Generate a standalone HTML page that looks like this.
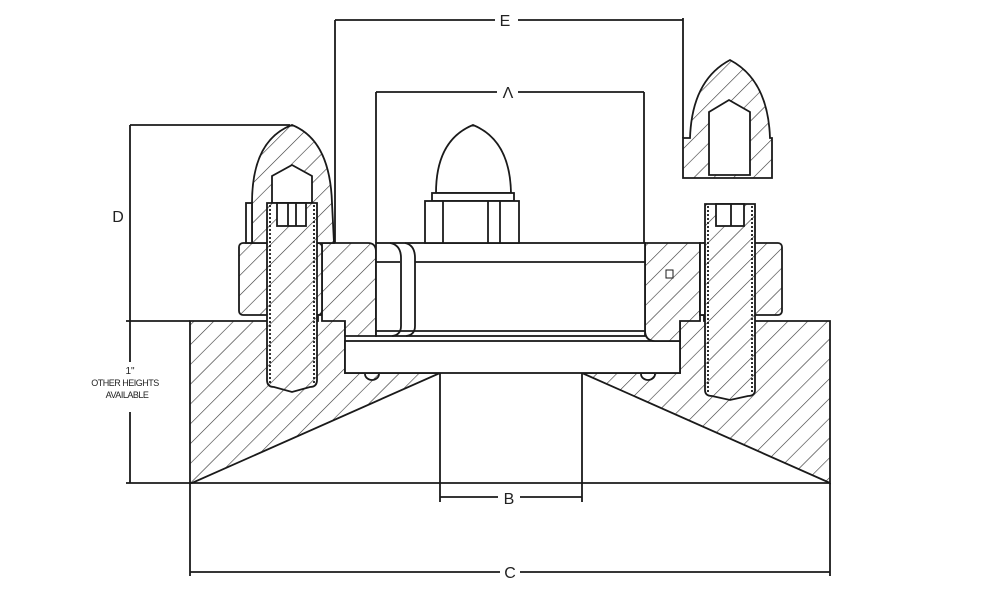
<!DOCTYPE html>
<html><head><style>
html,body{margin:0;padding:0;background:#fff;}
svg{display:block;}
text{font-family:"Liberation Sans",sans-serif;fill:#222;}
</style></head><body>
<svg width="992" height="595" viewBox="0 0 992 595" xmlns="http://www.w3.org/2000/svg">
<defs>
<pattern id="h" patternUnits="userSpaceOnUse" width="14" height="14" patternTransform="rotate(45)">
<rect width="14" height="14" fill="#fff"/>
<line x1="0" y1="0" x2="0" y2="14" stroke="#333" stroke-width="1.2"/>
</pattern>
</defs>
<g fill="none" stroke="#1a1a1a" stroke-width="1.8">
<!-- dimension E -->
<line x1="335" y1="20" x2="495" y2="20"/><line x1="518" y1="20" x2="683" y2="20"/>
<line x1="335" y1="20" x2="335" y2="243"/>
<line x1="683" y1="18" x2="683" y2="138"/>
<!-- A -->
<line x1="376" y1="92" x2="497" y2="92"/><line x1="518" y1="92" x2="644" y2="92"/>
<line x1="376" y1="92" x2="376" y2="243"/>
<line x1="644" y1="92" x2="644" y2="243"/>
<!-- D -->
<line x1="130" y1="125" x2="290" y2="125"/>
<line x1="130" y1="125" x2="130" y2="362"/>
<line x1="130" y1="412" x2="130" y2="483"/>
<line x1="126" y1="321" x2="190" y2="321"/>
<line x1="126" y1="483" x2="190" y2="483"/>
<!-- B -->
<line x1="440" y1="373" x2="440" y2="502"/><line x1="582" y1="373" x2="582" y2="502"/>
<line x1="440" y1="497" x2="498" y2="497"/><line x1="520" y1="497" x2="582" y2="497"/>
<!-- C -->
<line x1="190" y1="483" x2="190" y2="576"/><line x1="830" y1="483" x2="830" y2="576"/>
<line x1="190" y1="572" x2="500" y2="572"/><line x1="520" y1="572" x2="830" y2="572"/>

<!-- base -->
<polygon points="190,321 318,321 318,315 345,315 345,373 440,373 192,483 190,483" fill="url(#h)"/>
<polygon points="830,321 704,321 704,315 680,315 680,373 582,373 830,483" fill="url(#h)"/>
<line x1="190" y1="483" x2="830" y2="483"/>
<!-- plate -->
<rect x="345" y="341" width="335" height="32" fill="#fff"/>
<path d="M365,374 a7,6 0 0 0 14,0" /><path d="M641,374 a7,6 0 0 0 14,0"/>
<!-- flange left hatched -->
<path d="M322,243 H368 Q376,243 376,252 V336 H345 V321 H322 Z" fill="url(#h)"/>
<path d="M645,243 H700 V321 H680 V341 H655 Q645,341 645,330 Z" fill="url(#h)"/>
<!-- glass -->
<rect x="376" y="243" width="269" height="93" fill="#fff"/>
<line x1="376" y1="262" x2="400" y2="262"/>
<line x1="415" y1="262" x2="645" y2="262"/>
<line x1="376" y1="331" x2="645" y2="331"/>
<path d="M390,243 Q401,245 401,258 V326 Q401,335 392,336"/>
<path d="M405,243 Q415,245 415,258 V326 Q415,335 406,336"/>
<!-- left nut -->
<rect x="239" y="243" width="83" height="72" rx="4" fill="url(#h)"/>
<!-- left cap -->
<path d="M252,203 Q252,140 292,125 Q330,140 332,203 L334,243 H252 Z" fill="url(#h)"/>
<rect x="246" y="203" width="6" height="40" fill="#fff"/>
<polygon points="272,203 272,176 292,165 312,176 312,203" fill="#fff"/>
<!-- left bolt -->
<path d="M267,203 H317 V380 Q317,387 310,387 L292,392 L274,387 Q267,387 267,380 Z" fill="url(#h)"/>
<line x1="270" y1="205" x2="270" y2="385" stroke-dasharray="2,2"/>
<line x1="314" y1="205" x2="314" y2="385" stroke-dasharray="2,2"/>
<rect x="277" y="203" width="29" height="23" fill="#fff"/>
<line x1="288" y1="203" x2="288" y2="226"/><line x1="296" y1="203" x2="296" y2="226"/>
<!-- center acorn -->
<path d="M436,193 Q436,140 473,125 Q510,140 511,193 Z" fill="#fff"/>
<rect x="432" y="193" width="82" height="8" fill="#fff"/>
<rect x="425" y="201" width="94" height="42" fill="#fff"/>
<line x1="443" y1="201" x2="443" y2="243"/><line x1="488" y1="201" x2="488" y2="243"/><line x1="500" y1="201" x2="500" y2="243"/>
<!-- right nut -->
<rect x="700" y="243" width="82" height="72" rx="4" fill="url(#h)"/>
<rect x="700" y="243" width="5" height="72" fill="#fff"/>
<!-- right bolt -->
<path d="M705,204 H755 V390 Q755,396 748,396 L730,400 L712,396 Q705,396 705,390 Z" fill="url(#h)"/>
<line x1="708" y1="206" x2="708" y2="392" stroke-dasharray="2,2"/>
<line x1="752" y1="206" x2="752" y2="392" stroke-dasharray="2,2"/>
<rect x="716" y="204" width="28" height="22" fill="#fff"/>
<line x1="731" y1="204" x2="731" y2="226"/>
<rect x="666" y="270" width="7" height="8" stroke-width="1"/>
<!-- right cap -->
<path d="M690,138 Q692,80 730,60 Q768,80 770,138 H772 V178 H683 V138 Z" fill="url(#h)"/>
<polygon points="709,175 709,112 729,100 750,112 750,175" fill="#fff"/>
</g>
<text x="505" y="26" font-size="16" text-anchor="middle">E</text>
<text x="508" y="98" font-size="16" text-anchor="middle">Λ</text>
<text x="118" y="222" font-size="16" text-anchor="middle">D</text>
<text x="509" y="504" font-size="16" text-anchor="middle">B</text>
<text x="510" y="578" font-size="16" text-anchor="middle">C</text>
<text x="130" y="374" font-size="10" text-anchor="middle">1"</text>
<text x="125" y="386" font-size="9" text-anchor="middle" letter-spacing="-0.5">OTHER HEIGHTS</text>
<text x="127" y="398" font-size="9" text-anchor="middle" letter-spacing="-0.5">AVAILABLE</text>
</svg>
</body></html>
